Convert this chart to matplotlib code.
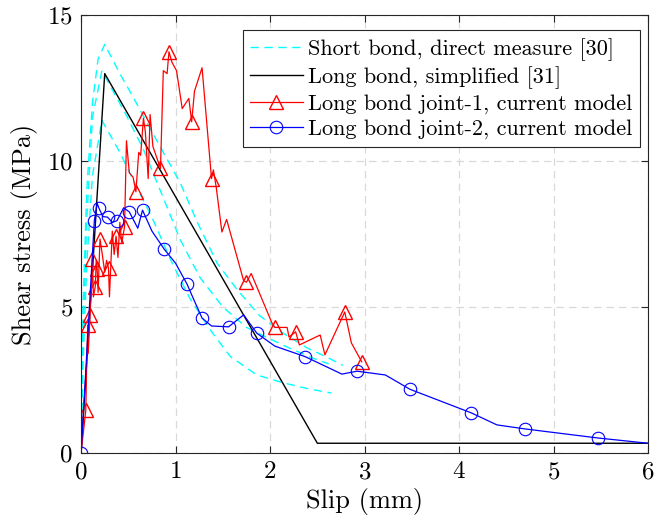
import numpy as np
import matplotlib.pyplot as plt

plt.rcParams['font.family'] = 'cmr10'
plt.rcParams['axes.formatter.use_mathtext'] = True
plt.rcParams['mathtext.fontset'] = 'cm'

# short bond, direct measure [30] (three test curves)
short_a_x = [0, 0.02, 0.06, 0.12, 0.18, 0.25, 0.41, 0.55, 0.70, 0.87, 1.05, 1.23, 1.44, 1.65, 1.89, 2.14, 2.39, 2.62, 2.77]
short_a_y = [0, 5.0, 9.0, 12.0, 13.5, 14.0, 13.0, 12.2, 11.3, 10.3, 9.25, 7.9, 6.5, 5.6, 4.7, 4.1, 3.6, 3.25, 3.0]
short_b_x = [0, 0.02, 0.06, 0.12, 0.22, 0.49, 0.66, 0.85, 1.05, 1.26, 1.50, 1.75, 1.97, 2.20, 2.45, 2.62]
short_b_y = [0, 4.0, 8.0, 11.5, 13.1, 11.5, 10.4, 8.9, 7.3, 6.0, 5.0, 4.3, 3.95, 3.6, 3.25, 3.05]
short_c_x = [0, 0.02, 0.06, 0.12, 0.22, 0.41, 0.59, 0.76, 0.95, 1.15, 1.37, 1.58, 1.86, 2.14, 2.40, 2.65]
short_c_y = [0, 3.0, 6.5, 9.5, 11.4, 10.3, 9.1, 8.0, 6.6, 5.3, 4.2, 3.3, 2.67, 2.4, 2.2, 2.05]

# long bond, simplified [31]
long_x = [0, 0.25, 2.5, 6.0]
long_y = [0, 13.0, 0.33, 0.33]

# long bond joint-1, current model
j1_x = [0.00, 0.05, 0.06, 0.07, 0.075, 0.095, 0.11, 0.12, 0.13, 0.15, 0.16, 0.17, 0.18, 0.20,
        0.22, 0.25, 0.27, 0.29, 0.30, 0.33, 0.35, 0.37, 0.39, 0.41, 0.43, 0.46, 0.48, 0.51,
        0.55, 0.58, 0.61, 0.63, 0.66, 0.68, 0.71, 0.73, 0.76, 0.84, 0.87, 0.91, 0.93, 0.96,
        1.01, 1.07, 1.14, 1.17, 1.20, 1.28, 1.38, 1.40, 1.43, 1.49, 1.54, 1.72, 1.75, 1.80,
        2.02, 2.05, 2.18, 2.20, 2.27, 2.31, 2.53, 2.58, 2.79, 2.86, 2.97]
j1_y = [0.0, 1.47, 3.2, 4.38, 3.4, 4.73, 5.8, 6.64, 5.35, 5.7, 6.6, 6.3, 5.5, 7.33,
        6.9, 6.2, 6.6, 6.33, 5.35, 7.6, 6.8, 7.43, 6.7, 7.9, 7.2, 7.75, 10.7, 9.6,
        9.45, 8.95, 10.3, 10.2, 11.47, 11.0, 9.4, 11.6, 10.5, 9.75, 13.1, 13.0, 13.75, 13.4,
        13.1, 11.8, 12.15, 11.35, 12.4, 13.2, 9.4, 9.7, 9.1, 7.57, 8.0, 5.9, 5.85, 6.15,
        4.45, 4.3, 4.3, 3.97, 4.15, 3.7, 4.04, 3.36, 4.83, 3.77, 3.12]
j1_marks = [1, 3, 5, 7, 9, 11, 13, 17, 21, 25, 29, 32, 37, 40, 45, 48, 54, 57, 60, 64, 66]

# long bond joint-2, current model
j2_x = [0, 0.14, 0.17, 0.19, 0.23, 0.28, 0.33, 0.38, 0.45, 0.51, 0.60, 0.65, 0.75, 0.88, 1.00,
        1.12, 1.20, 1.28, 1.38, 1.56, 1.72, 1.86, 2.05, 2.37, 2.76, 2.92, 3.22, 3.48, 4.13,
        4.40, 4.70, 5.47, 6.00]
j2_y = [0, 7.96, 8.55, 8.38, 8.1, 8.08, 7.9, 7.96, 8.4, 8.26, 7.7, 8.32, 7.6, 6.98, 6.5,
        5.79, 5.2, 4.62, 4.35, 4.32, 4.73, 4.1, 3.66, 3.3, 2.7, 2.8, 2.67, 2.18, 1.37,
        0.96, 0.82, 0.51, 0.33]
j2_marks = [0, 1, 3, 5, 7, 9, 11, 13, 15, 17, 19, 21, 23, 25, 27, 28, 30, 31]

fig = plt.figure(figsize=(6.54, 5.26), dpi=100)
ax = fig.add_axes([0.124, 0.139, 0.867, 0.832])

cyan = dict(color='#00ffff', ls=(0, (6, 4)), lw=1.0)
ax.plot(short_a_x, short_a_y, label='Short bond, direct measure [30]', **cyan)
ax.plot(short_b_x, short_b_y, **cyan)
ax.plot(short_c_x, short_c_y, **cyan)
ax.plot(long_x, long_y, color='k', lw=1.0, label='Long bond, simplified [31]')
ax.plot(j1_x, j1_y, color='r', lw=0.9, marker='^', ms=10, mfc='none', mew=1.0,
        markevery=j1_marks, label='Long bond joint-1, current model')
ax.plot(j2_x, j2_y, color='b', lw=0.9, marker='o', ms=9, mfc='none', mew=0.8,
        markevery=j2_marks, label='Long bond joint-2, current model')

ax.set_xlim(0, 6)
ax.set_ylim(0, 15)
ax.set_xticks(range(0, 7))
ax.set_yticks([0, 5, 10, 15])
ax.grid(True, ls=(0, (6, 4)), color='#d9d9d9', lw=0.9)
ax.tick_params(direction='in', labelsize=18, length=5, width=0.8, top=True, right=True,
               color='#262626', pad=6)
for s in ax.spines.values():
    s.set_color('#262626')
    s.set_linewidth(0.8)
ax.set_xlabel('Slip (mm)', fontsize=19, labelpad=3)
ax.set_ylabel('Shear stress (MPa)', fontsize=19, labelpad=6)

leg = ax.legend(loc='upper right', bbox_to_anchor=(0.986, 0.966), fontsize=16,
                fancybox=False, framealpha=1, edgecolor='#262626', handlelength=2.35,
                handletextpad=0.25, borderpad=0.35, labelspacing=0.24, borderaxespad=0)
leg.get_frame().set_linewidth(0.8)

fig.savefig('out.png', dpi=100)
